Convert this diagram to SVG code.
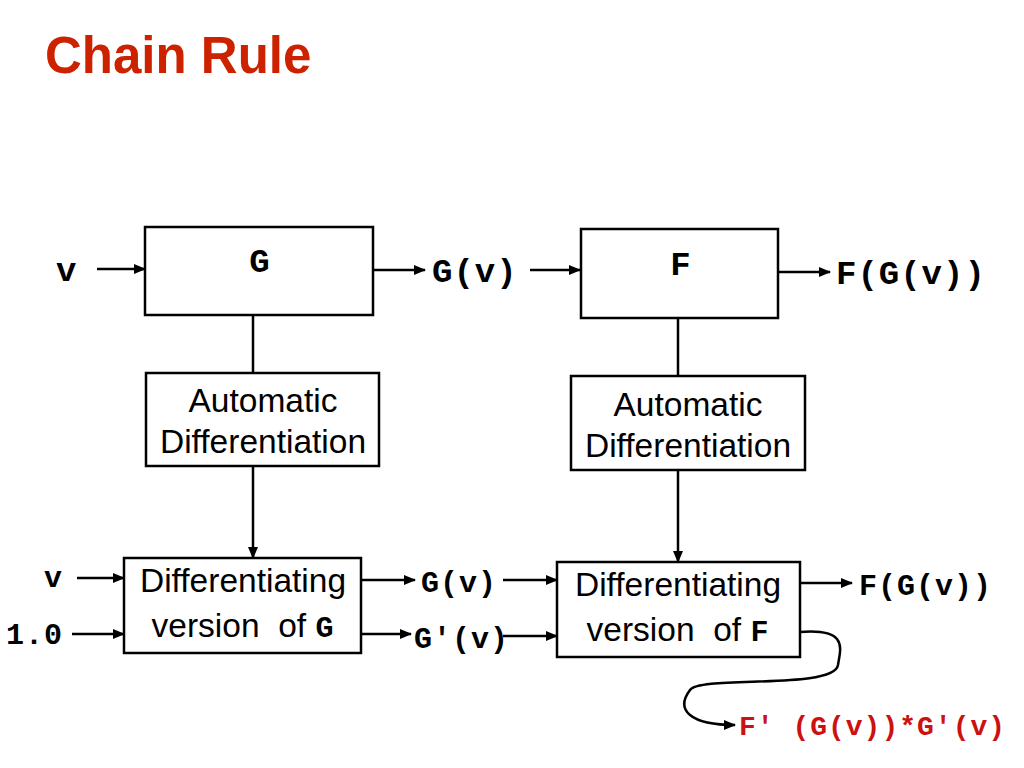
<svg xmlns="http://www.w3.org/2000/svg" width="1024" height="768" viewBox="0 0 1024 768">
<style>
.box{fill:#fff;stroke:#000;stroke-width:2.5}
.m{font-family:"Liberation Mono",monospace;font-weight:bold;font-size:34px;letter-spacing:1px}
.m2{font-size:30px}
.s{font-family:"Liberation Sans",Arial,sans-serif;font-size:33.5px;text-anchor:middle}
.c{stroke:#000;stroke-width:2.5;fill:none}
.a{marker-end:url(#ah)}
</style>
<defs><marker id="ah" markerWidth="12" markerHeight="10" refX="11" refY="5" orient="auto" markerUnits="userSpaceOnUse"><path d="M0,0L12,5L0,10z"/></marker></defs>
<rect width="1024" height="768" fill="#fff"/>
<text x="45" y="73" font-family="Liberation Sans,Arial,sans-serif" font-weight="bold" font-size="51" fill="#cc2200">Chain Rule</text>
<g id="G"><rect class="box" x="145" y="227" width="228" height="88"/><text class="m" x="260" y="272" text-anchor="middle">G</text></g>
<g id="F"><rect class="box" x="581" y="229" width="197" height="89"/><text class="m" x="681" y="275" text-anchor="middle">F</text></g>
<g id="AD1"><rect class="box" x="146" y="373" width="233" height="93"/><text class="s" x="263" y="412">Automatic</text><text class="s" x="263" y="453">Differentiation</text></g>
<g id="AD2"><rect class="box" x="571" y="376" width="234" height="94"/><text class="s" x="688" y="416">Automatic</text><text class="s" x="688" y="457">Differentiation</text></g>
<g id="DG"><rect class="box" x="124" y="558" width="237" height="95"/><text class="s" x="243" y="592">Differentiating</text><text class="s" x="243" y="637" xml:space="preserve">version  of <tspan class="m m2" letter-spacing="0">G</tspan></text></g>
<g id="DF"><rect class="box" x="557" y="562" width="243" height="95"/><text class="s" x="678" y="596">Differentiating</text><text class="s" x="678" y="641" xml:space="preserve">version  of <tspan class="m m2" letter-spacing="0">F</tspan></text></g>
<g id="labels" class="m">
<text x="56" y="281">v</text>
<text x="432" y="282">G(v)</text>
<text x="836" y="284">F(G(v))</text>
<text x="44" y="587" class="m2">v</text>
<text x="6" y="644" class="m2">1.0</text>
<text x="421" y="592" class="m2">G(v)</text>
<text x="414" y="648" class="m2">G′(v)</text>
<text x="859" y="595" class="m2">F(G(v))</text>
<text x="739" y="735" fill="#cc1111" font-size="28">F′ (G(v))*G′(v)</text>
</g>
<g id="connectors">
<line class="c a" x1="97" y1="269" x2="145" y2="269"/>
<line class="c a" x1="373" y1="270" x2="425" y2="270"/>
<line class="c a" x1="530" y1="270" x2="580" y2="270"/>
<line class="c a" x1="778" y1="272" x2="830" y2="272"/>
<line class="c" x1="253" y1="315" x2="253" y2="373"/>
<line class="c" x1="678" y1="318" x2="678" y2="376"/>
<line class="c a" x1="253" y1="466" x2="253" y2="558"/>
<line class="c a" x1="678" y1="470" x2="678" y2="562"/>
<line class="c a" x1="77" y1="578" x2="124" y2="578"/>
<line class="c a" x1="72" y1="634" x2="124" y2="634"/>
<line class="c a" x1="361" y1="580" x2="415" y2="580"/>
<line class="c a" x1="503" y1="580" x2="557" y2="580"/>
<line class="c a" x1="361" y1="634" x2="411" y2="634"/>
<line class="c a" x1="503" y1="636" x2="557" y2="636"/>
<line class="c a" x1="800" y1="583" x2="852" y2="583"/>
<path class="c a" d="M800,632 C850,628 840,650 838,665 C834,690 700,675 690,690 C675,710 690,725 735,725"/>
</g>
</svg>
